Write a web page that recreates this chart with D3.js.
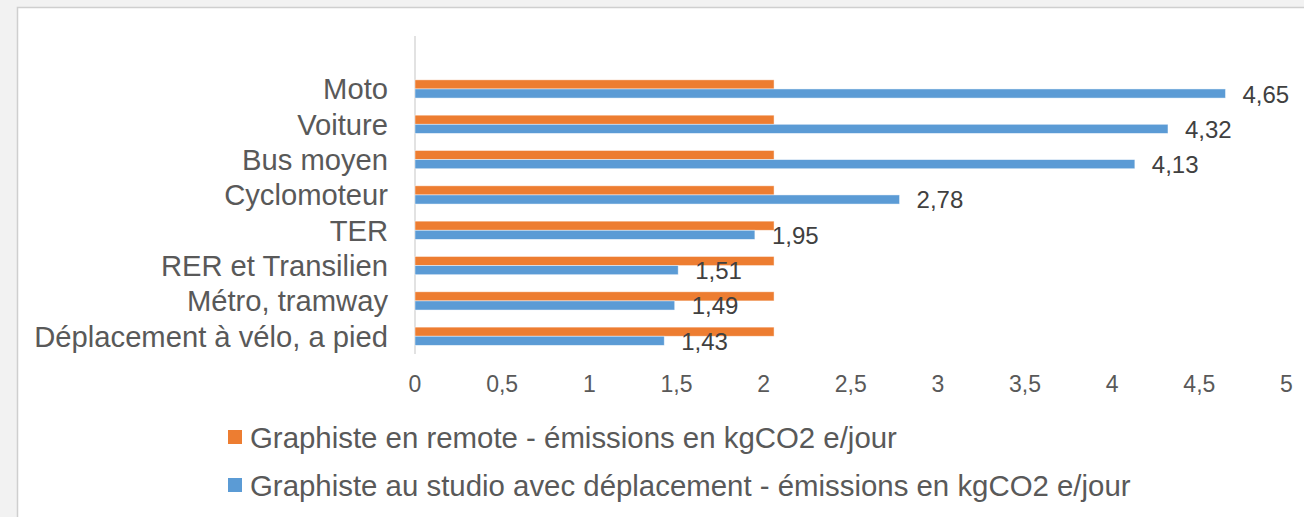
<!DOCTYPE html>
<html>
<head>
<meta charset="utf-8">
<script src="https://cdn.jsdelivr.net/npm/d3@7"></script>
<style>
  html, body { margin: 0; padding: 0; background: #f2f2f2; }
  svg { display: block; font-family: "Liberation Sans", Arial, Helvetica, sans-serif; }
</style>
</head>
<body>
<svg id="chart" width="1304" height="517"></svg>
<script>
// Transport modes, top to bottom
const categories = [
  "Moto",
  "Voiture",
  "Bus moyen",
  "Cyclomoteur",
  "TER",
  "RER et Transilien",
  "Métro, tramway",
  "Déplacement à vélo, a pied"
];
// Daily emissions, kgCO2 e/jour
const remoteValues = [2.06, 2.06, 2.06, 2.06, 2.06, 2.06, 2.06, 2.06];
const studioValues = [4.65, 4.32, 4.13, 2.78, 1.95, 1.51, 1.49, 1.43];
const tickValues = [0, 0.5, 1, 1.5, 2, 2.5, 3, 3.5, 4, 4.5, 5];
const seriesNames = [
  "Graphiste en remote - émissions en kgCO2 e/jour",
  "Graphiste au studio avec déplacement - émissions en kgCO2 e/jour"
];
const seriesColors = ["#ED7D31", "#5B9BD5"];

const fmt = v => String(v).replace(".", ",");

const svg = d3.select("#chart");

// chart area panel
svg.append("rect")
  .attr("x", 17.5).attr("y", 7.5)
  .attr("width", 1300).attr("height", 520)
  .attr("fill", "#ffffff")
  .attr("stroke", "#cfcfcf")
  .attr("stroke-width", 1.5);

const x = d3.scaleLinear().domain([0, 5]).range([415, 1286.5]);
const y = d3.scaleBand().domain(categories).range([71.3, 353.9]).padding(0);
const step = y.step();
const barH = step * 0.258;

// vertical category axis line (one empty slot above the first category)
svg.append("line")
  .attr("x1", x(0)).attr("x2", x(0))
  .attr("y1", y.range()[0] - step).attr("y2", y.range()[1])
  .attr("stroke", "#d9d9d9").attr("stroke-width", 1.5);

const rows = categories.map((c, i) => ({ cat: c, remote: remoteValues[i], studio: studioValues[i] }));

const g = svg.append("g");

// remote series bars (upper bar of each pair)
g.selectAll("rect.remote").data(rows).join("rect")
  .attr("class", "remote")
  .attr("x", x(0))
  .attr("y", d => y(d.cat) + step / 2 - barH)
  .attr("width", d => x(d.remote) - x(0))
  .attr("height", barH)
  .attr("fill", seriesColors[0])
  .attr("stroke", "#ffffff").attr("stroke-opacity", 0.6).attr("stroke-width", 0.75);

// studio series bars (lower bar of each pair)
g.selectAll("rect.studio").data(rows).join("rect")
  .attr("class", "studio")
  .attr("x", x(0))
  .attr("y", d => y(d.cat) + step / 2)
  .attr("width", d => x(d.studio) - x(0))
  .attr("height", barH)
  .attr("fill", seriesColors[1])
  .attr("stroke", "#ffffff").attr("stroke-opacity", 0.6).attr("stroke-width", 0.75);

// value labels on studio bars
g.selectAll("text.val").data(rows).join("text")
  .attr("class", "val")
  .attr("x", d => x(d.studio) + 17)
  .attr("y", d => y(d.cat) + step / 2 + barH / 2 + 9)
  .attr("font-size", 24)
  .attr("fill", "#404040")
  .text(d => fmt(d.studio));

// category labels
g.selectAll("text.cat").data(rows).join("text")
  .attr("class", "cat")
  .attr("x", 388)
  .attr("y", d => y(d.cat) + step / 2 + 10.4)
  .attr("text-anchor", "end")
  .attr("font-size", 29.2)
  .attr("fill", "#595959")
  .text(d => d.cat);

// value axis tick labels
svg.append("g").selectAll("text").data(tickValues).join("text")
  .attr("x", d => x(d))
  .attr("y", 392)
  .attr("text-anchor", "middle")
  .attr("font-size", 23)
  .attr("fill", "#595959")
  .text(d => fmt(d));

// legend
const legend = svg.append("g").selectAll("g").data(seriesNames).join("g")
  .attr("transform", (d, i) => `translate(228, ${430 + i * 48})`);
legend.append("rect")
  .attr("width", 14).attr("height", 14)
  .attr("fill", (d, i) => seriesColors[i]);
legend.append("text")
  .attr("x", 22).attr("y", 17.5)
  .attr("font-size", 29.4)
  .attr("fill", "#595959")
  .text(d => d);
</script>
</body>
</html>
